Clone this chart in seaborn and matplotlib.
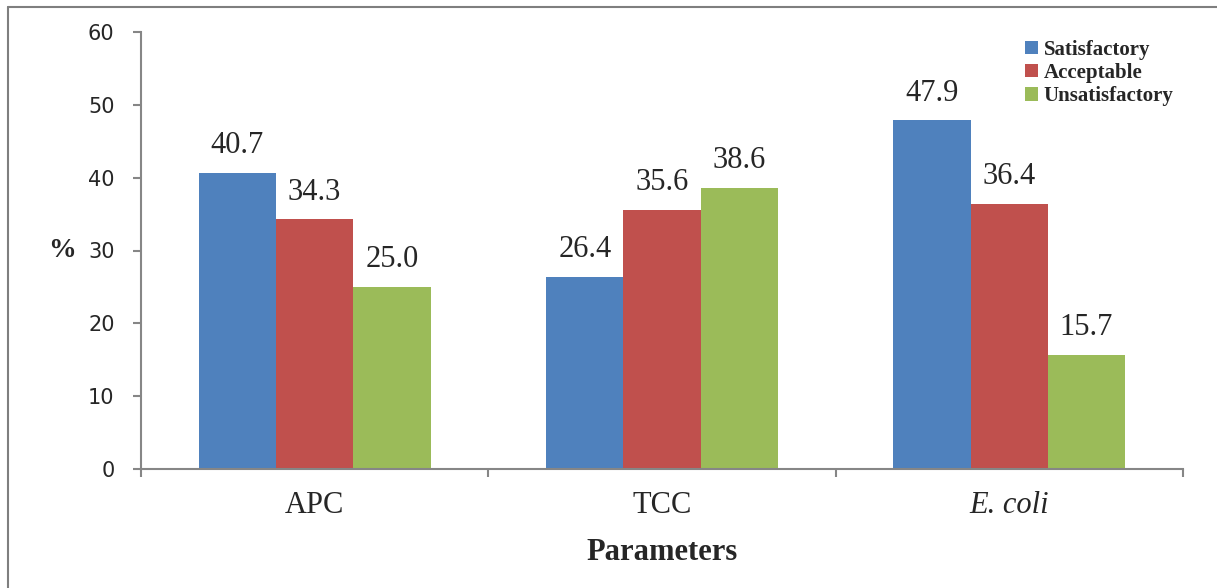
import seaborn as sns
import matplotlib.pyplot as plt
import pandas as pd
from matplotlib.lines import Line2D
from matplotlib.ticker import FixedLocator

# data
parameters = ["APC", "TCC", "E. coli"]
ratings = ["Satisfactory", "Acceptable", "Unsatisfactory"]
satisfactory = [40.7, 26.4, 47.9]
acceptable = [34.3, 35.6, 36.4]
unsatisfactory = [25.0, 38.6, 15.7]
colors = ["#4F81BD", "#C0504D", "#9BBB59"]

df = pd.DataFrame({
    "Parameter": parameters * 3,
    "Rating": [ratings[0]] * 3 + [ratings[1]] * 3 + [ratings[2]] * 3,
    "Percent": satisfactory + acceptable + unsatisfactory,
})

sns.set_style("white")
serif = "Liberation Serif"
grey = "#868686"

fig = plt.figure(figsize=(12.17, 5.88), dpi=100)
ax = fig.add_axes([141 / 1217, 1 - 469 / 588, (1183 - 141) / 1217, (469 - 32) / 588])

sns.barplot(data=df, x="Parameter", y="Percent", hue="Rating", hue_order=ratings,
            palette=colors, width=0.667, gap=0, linewidth=0, saturation=1, ax=ax)

for cont in ax.containers:                                                      # value labels on top of the bars
    ax.bar_label(cont, fmt="%.1f", padding=9, fontsize=22, family=serif)

ax.set_ylim(0, 60)
ax.set_xlim(-0.5, 2.5)
ax.set_yticks(range(0, 61, 10))
ax.tick_params(axis="y", labelsize=15, length=6, width=1.5, color=grey, pad=13, left=True)
ax.tick_params(axis="x", which="major", length=0, pad=16)
ax.xaxis.set_minor_locator(FixedLocator([-0.5, 0.5, 1.5, 2.5]))
ax.tick_params(axis="x", which="minor", length=6, width=1.5, color=grey, bottom=True)
for lab in ax.get_xticklabels():
    lab.set_family(serif)
    lab.set_fontsize(22)
    if lab.get_text() == "E. coli":
        lab.set_style("italic")

for s in ["top", "right"]:
    ax.spines[s].set_visible(False)
for s in ["left", "bottom"]:
    ax.spines[s].set_color(grey)
    ax.spines[s].set_linewidth(1.5)

ax.set_xlabel("Parameters", fontsize=22, fontweight="bold", family=serif)
ax.xaxis.set_label_coords(0.5, -0.19)
ax.xaxis.label.set_va("center")
ax.set_ylabel("%", fontsize=20, fontweight="bold", family=serif, rotation=0)
ax.yaxis.set_label_coords(-0.076, 0.5)
ax.yaxis.label.set_va("center")
ax.yaxis.label.set_ha("center")

leg = ax.legend(loc="upper left", bbox_to_anchor=(1025 / 1217, 1 - 40 / 588),
                bbox_transform=fig.transFigure, frameon=False,
                prop={"family": serif, "weight": "bold", "size": 15},
                handlelength=0.6, handleheight=0.6, handletextpad=0.3,
                labelspacing=0.15, borderpad=0, borderaxespad=0)

# outer frame (top and left edges visible in the reference)
fig.add_artist(Line2D([8 / 1217, 1], [1 - 7 / 588, 1 - 7 / 588], color="#7f7f7f", lw=1.5, transform=fig.transFigure))
fig.add_artist(Line2D([8 / 1217, 8 / 1217], [0, 1 - 7 / 588], color="#7f7f7f", lw=1.5, transform=fig.transFigure))

fig.savefig("out.png", dpi=100)
